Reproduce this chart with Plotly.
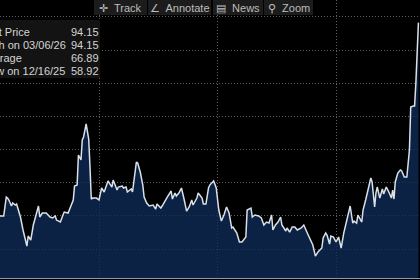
import plotly.graph_objects as go

dates = [
    "2025-04-15", "2025-04-18", "2025-04-20", "2025-04-21", "2025-04-22", "2025-04-24", "2025-04-25", "2025-04-27", "2025-04-28",
    "2025-05-01", "2025-05-03", "2025-05-06", "2025-05-07", "2025-05-09", "2025-05-11", "2025-05-14", "2025-05-15", "2025-05-16",
    "2025-05-18", "2025-05-21", "2025-05-24", "2025-05-26", "2025-05-28", "2025-05-29",
    "2025-06-01", "2025-06-03", "2025-06-04", "2025-06-07", "2025-06-10", "2025-06-11", "2025-06-12", "2025-06-14", "2025-06-15",
    "2025-06-17", "2025-06-18", "2025-06-19", "2025-06-21", "2025-06-22", "2025-06-23", "2025-06-24", "2025-06-25", "2025-06-26",
    "2025-06-29",
    "2025-07-01", "2025-07-03", "2025-07-05", "2025-07-07", "2025-07-08", "2025-07-11", "2025-07-12", "2025-07-15", "2025-07-16",
    "2025-07-19", "2025-07-20", "2025-07-22", "2025-07-23", "2025-07-26", "2025-07-27", "2025-07-28", "2025-07-30", "2025-07-31",
    "2025-08-02", "2025-08-04", "2025-08-05", "2025-08-07", "2025-08-09", "2025-08-12", "2025-08-14", "2025-08-15", "2025-08-18",
    "2025-08-19", "2025-08-22", "2025-08-23", "2025-08-26", "2025-08-27", "2025-08-29", "2025-08-30",
    "2025-09-01", "2025-09-03", "2025-09-05", "2025-09-07", "2025-09-09", "2025-09-11", "2025-09-12", "2025-09-15", "2025-09-16",
    "2025-09-19", "2025-09-20", "2025-09-22", "2025-09-24", "2025-09-25", "2025-09-28", "2025-09-30",
    "2025-10-02", "2025-10-04", "2025-10-06", "2025-10-08", "2025-10-10", "2025-10-12", "2025-10-13", "2025-10-16", "2025-10-18",
    "2025-10-20", "2025-10-23", "2025-10-24", "2025-10-27", "2025-10-28", "2025-10-30",
    "2025-11-02", "2025-11-04", "2025-11-06", "2025-11-08", "2025-11-10", "2025-11-12", "2025-11-13", "2025-11-15", "2025-11-17",
    "2025-11-19", "2025-11-20", "2025-11-23", "2025-11-24", "2025-11-26", "2025-11-28", "2025-11-30",
    "2025-12-02", "2025-12-05", "2025-12-07", "2025-12-09", "2025-12-11", "2025-12-14", "2025-12-16", "2025-12-18", "2025-12-21",
    "2025-12-22", "2025-12-24", "2025-12-25", "2025-12-27", "2025-12-28", "2025-12-30",
    "2026-01-01", "2026-01-03", "2026-01-05", "2026-01-07", "2026-01-09", "2026-01-11", "2026-01-12", "2026-01-14", "2026-01-15",
    "2026-01-17", "2026-01-18", "2026-01-21", "2026-01-22", "2026-01-24", "2026-01-26", "2026-01-28", "2026-01-29", "2026-01-31",
    "2026-02-01", "2026-02-02", "2026-02-04", "2026-02-06", "2026-02-07", "2026-02-09", "2026-02-11", "2026-02-13", "2026-02-14",
    "2026-02-15", "2026-02-16", "2026-02-18", "2026-02-20", "2026-02-21", "2026-02-23", "2026-02-25", "2026-02-27", "2026-02-28",
    "2026-03-02", "2026-03-03", "2026-03-04", "2026-03-06",
]
prices = [
    64.98, 64.98, 67.84, 67.69, 67.39, 66.49, 66.94, 66.64, 66.79,
    64.83, 62.87, 60.45, 61.96, 61.36, 63.62, 65.88, 66.49, 64.83,
    65.43, 65.43, 64.83, 64.68, 64.98, 64.37,
    64.07, 65.13, 65.58, 65.43, 66.94, 67.39, 69.50, 69.65, 74.18,
    73.43, 76.44, 76.90, 78.86, 77.65, 76.59, 72.37, 67.54, 67.69,
    67.69,
    67.39, 69.20, 68.60, 69.81, 70.26, 69.35, 70.41, 68.90, 69.35,
    69.50, 69.20, 69.35, 68.60, 69.05, 68.60, 70.11, 73.12, 72.97,
    71.62, 69.65, 67.84, 66.94, 66.49, 66.64, 66.03, 66.79, 66.18,
    66.49, 67.69, 67.84, 68.75, 67.54, 68.45, 68.00,
    68.45, 69.20, 67.54, 65.73, 66.34, 67.39, 66.64, 67.69, 68.45,
    67.69, 66.79, 66.79, 69.20, 69.65, 70.26, 69.20,
    65.88, 64.22, 65.13, 66.34, 65.43, 63.17, 63.32, 62.41, 61.06,
    61.06, 61.81, 65.88, 66.18, 64.83, 65.13,
    64.98, 64.68, 63.62, 64.07, 63.92, 65.13, 62.87, 63.62, 64.07,
    64.83, 63.62, 62.72, 63.17, 62.56, 63.32, 63.32,
    62.87, 63.17, 63.62, 62.72, 61.81, 60.60, 58.92, 59.55, 60.15,
    61.66, 62.41, 62.11, 60.75, 61.96, 61.81,
    61.06, 61.81, 60.15, 62.41, 63.92, 65.58, 66.49, 63.92, 64.22,
    63.92, 65.13, 64.07, 65.88, 67.39, 68.90, 70.71, 70.11, 66.34,
    68.45, 69.35, 67.69, 69.05, 68.30, 69.35, 68.60, 67.69, 68.90,
    67.54, 70.11, 71.46, 71.92, 71.77, 70.86, 70.86, 74.93, 81.42,
    81.57, 81.57, 85.04, 94.15,
]

legend_labels = ["Last Price", "High on 03/06/26", "Average", "Low on 12/16/25"]
legend_values = ["94.15", "94.15", "66.89", "58.92"]
toolbar_labels = ["\u271b  Track", "\u2220  Annotate", "\u25a4  News", "\u26b2  Zoom"]

W, H = 420, 280
MB = 2
PH = H - MB


def px(x):
    return x / W


def py(y):
    return (PH - y) / PH


fig = go.Figure()
fig.add_trace(go.Scatter(
    x=dates, y=prices, mode="lines",
    line=dict(color="#d9e0e8", width=1.5),
    fill="tozeroy", fillcolor="rgba(15,44,88,0.78)",
    hoverinfo="skip", showlegend=False,
))

shapes = []
annotations = []

# legend box
shapes.append(dict(type="rect", xref="paper", yref="paper", x0=px(-2), x1=px(100), y0=py(78), y1=py(20),
                   fillcolor="#131313", line=dict(width=0), layer="above"))
ys = [32, 44.5, 57.5, 70.5]
label_x = [-21, -20, -21, -18]
for lab, val, yy, lx in zip(legend_labels, legend_values, ys, label_x):
    annotations.append(dict(text=lab, xref="paper", yref="paper", x=px(lx), y=py(yy), xanchor="left", yanchor="middle",
                            showarrow=False, font=dict(family="Liberation Sans, Arial", size=11, color="#d4d4d4")))
    annotations.append(dict(text=val, xref="paper", yref="paper", x=px(101), y=py(yy), xanchor="right", yanchor="middle",
                            showarrow=False, font=dict(family="Liberation Sans, Arial", size=11, color="#d4d4d4")))

# toolbar
btns = [(94, 147), (148, 211), (213, 263), (264, 313)]
for (a, b), lab in zip(btns, toolbar_labels):
    shapes.append(dict(type="rect", xref="paper", yref="paper", x0=px(a), x1=px(b), y0=py(15), y1=py(-2),
                       fillcolor="#1c1c1c", line=dict(width=0), layer="above"))
    annotations.append(dict(text=lab, xref="paper", yref="paper", x=px((a + b) / 2), y=py(7.5), xanchor="center",
                            yanchor="middle", showarrow=False,
                            font=dict(family="Liberation Sans, Arial", size=11, color="#bdbdbd")))

fig.update_layout(
    width=W, height=H,
    margin=dict(l=0, r=0, t=0, b=MB),
    paper_bgcolor="#000000", plot_bgcolor="#000000",
    shapes=shapes, annotations=annotations,
    xaxis=dict(type="date", range=["2025-04-15 03:00", "2026-03-07 05:00"], showticklabels=False,
               dtick="M3", tick0="2025-01-01", showgrid=True, gridcolor="#5e5e5e", griddash="1px,2px", gridwidth=1,
               zeroline=False, showline=True, linecolor="#8d99a8", linewidth=1, ticks=""),
    yaxis=dict(range=[55.63, 97.56], showticklabels=False, dtick=5, tick0=0, showgrid=True,
               gridcolor="#5e5e5e", griddash="1px,2px", gridwidth=1, zeroline=False, showline=False, ticks=""),
    hovermode=False,
)

fig.write_html("out.html", config={"displayModeBar": False})
